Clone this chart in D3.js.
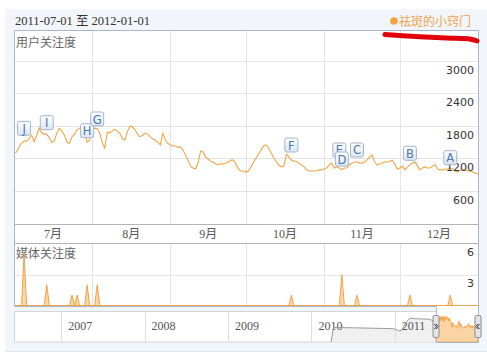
<!DOCTYPE html>
<html><head><meta charset="utf-8">
<script src="https://cdn.jsdelivr.net/npm/d3@7/dist/d3.min.js"></script>
<style>html,body{margin:0;padding:0;background:#fff;}svg{display:block;}</style>
</head><body>
<script>
// ---------- DATA ----------
const rangeStart = "2011-07-01";
const rangeEnd = "2012-01-01";
const keyword = "祛斑的小窍门";
// daily 用户关注度 from 2011-07-01 to 2012-01-01
const userValues = [
1300,1320,1410,1485,1520,1520,1560,1630,1510,1630,
1760,1670,1650,1650,1580,1500,1520,1670,1760,1700,
1630,1500,1480,1600,1650,1730,1760,1780,1670,1500,
1540,1730,1760,1750,1670,1490,1390,1690,1670,1710,
1740,1700,1670,1560,1540,1700,1800,1780,1730,1650,
1600,1630,1670,1650,1600,1560,1540,1500,1450,1665,
1540,1480,1450,1430,1430,1410,1410,1360,1260,1170,
1060,1025,1005,1120,1340,1320,1230,1190,1150,1135,
1100,1080,1100,1100,1115,1135,1170,1170,1100,1005,
970,970,950,970,1045,1135,1210,1280,1360,1430,
1450,1390,1300,1210,1140,1080,1045,1060,1280,1230,
1170,1150,1150,1115,1080,1045,990,970,970,970,
970,990,990,1005,1025,1080,1115,1025,1045,1025,
990,1025,1025,1080,1115,1135,1135,1115,1115,1135,
1170,1230,1265,1135,1080,1100,1115,1135,1135,1150,
1170,1100,1005,1025,1060,990,1045,1080,1115,1135,
1060,990,1025,1045,1025,1025,1060,1080,1005,990,
990,1005,1005,1025,1005,970,950,990,990,990,
970,970,950,930,915];
// 媒体关注度 (non-zero days)
const mediaDates = ["2011-07-05","2011-07-14","2011-07-24","2011-07-26","2011-07-30","2011-08-03","2011-10-19","2011-11-08","2011-11-14","2011-12-05","2011-12-21"];
const mediaValues = [5,2,1,1,2,2,1,3,1,1,1];
// news flags
const flagLetters = ["A","B","C","D","E","F","G","H","I","J"];
const flagDates = ["2011-12-21","2011-12-05","2011-11-14","2011-11-08","2011-11-07","2011-10-19","2011-08-03","2011-07-30","2011-07-14","2011-07-05"];
const flagLevels = [1215,1296,1357,1190,1357,1449,1929,1713,1861,1757];
// axes
const yTicks = [600,1200,1800,2400,3000];
const mediaTicks = [3,6];
const monthLabels = ["7月","8月","9月","10月","11月","12月"];
const yearLabels = ["2007","2008","2009","2010","2011"];
// navigator overview (before selected range)
const navDates = ["2010-03-28","2010-04-08","2010-05-01","2010-06-01","2010-07-01","2010-08-01","2010-09-01","2010-10-01","2010-11-01","2010-12-01","2011-01-01","2011-01-20","2011-02-01","2011-02-20","2011-03-10","2011-04-01","2011-05-01","2011-06-01","2011-07-01"];
const navValues = [0,1000,1010,990,985,975,965,955,945,935,905,770,820,1400,1650,1620,1600,1580,1400];
const navStart = "2006-06-08";

// ---------- DRAW ----------
const W = 487, H = 358;
const parse = d3.timeParse("%Y-%m-%d");
const t0 = parse(rangeStart), t1 = parse(rangeEnd);
const userData = userValues.map((v,i)=>({d:d3.timeDay.offset(t0,i), v}));

const L = 14, R = 478, T = 30, B = 224;
const x = d3.scaleTime().domain([t0,t1]).range([L,R]);
const y = d3.scaleLinear().domain([0,3572]).range([223.5,T]);
const ym = d3.scaleLinear().domain([0,6]).range([305.5,243.5]);
const xn = d3.scaleTime().domain([parse(navStart), t1]).range([L,R]);
const yn = d3.scaleLinear().domain([0,2150]).range([342,311]);

const svg = d3.select("body").append("svg").attr("width",W).attr("height",H);
const cjk = "'Noto Sans CJK SC', sans-serif";
const serif = "'Liberation Serif','Noto Sans CJK SC', serif";

svg.append("rect").attr("x",5).attr("y",9).attr("width",482).attr("height",343).attr("fill","#f2f5f9");
svg.append("line").attr("x1",5).attr("x2",487).attr("y1",351.5).attr("y2",351.5).attr("stroke","#dde3ea");

// header
svg.append("text").attr("x",15).attr("y",25).attr("font-family",serif).attr("font-size",12.5)
  .attr("fill","#333").text(rangeStart+" 至 "+rangeEnd);
svg.append("circle").attr("cx",394).attr("cy",21).attr("r",3.8).attr("fill","#f6a245");
svg.append("text").attr("x",399).attr("y",25.5).attr("font-family",cjk).attr("font-size",12)
  .attr("fill","#f0a44c").text(keyword);

// main white panel
svg.append("rect").attr("x",L).attr("y",T).attr("width",R-L).attr("height",306-T).attr("fill","#fff");

const g = svg.append("g");
// horizontal gridlines
g.selectAll(".hg").data(yTicks).join("line")
  .attr("x1",L).attr("x2",R).attr("y1",d=>Math.round(y(d))+0.5).attr("y2",d=>Math.round(y(d))+0.5)
  .attr("stroke","#e4e4e4");
// month boundaries
const monthStarts = d3.timeMonth.range(t0, d3.timeDay.offset(t1,1));
const innerMonths = monthStarts.slice(1, monthStarts.length-1);
g.selectAll(".vg").data(innerMonths).join("line")
  .attr("x1",d=>Math.round(x(d))+0.5).attr("x2",d=>Math.round(x(d))+0.5).attr("y1",T).attr("y2",B)
  .attr("stroke","#e4e4e4");
g.selectAll(".vg2").data(innerMonths).join("line")
  .attr("x1",d=>Math.round(x(d))+0.5).attr("x2",d=>Math.round(x(d))+0.5).attr("y1",243).attr("y2",306)
  .attr("stroke","#e4e4e4");
// media gridline
g.selectAll(".mg").data(mediaTicks.slice(0,1)).join("line")
  .attr("x1",L).attr("x2",R).attr("y1",d=>Math.round(ym(d))+0.5).attr("y2",d=>Math.round(ym(d))+0.5)
  .attr("stroke","#e4e4e4");

// axis band
g.append("line").attr("x1",L).attr("x2",R).attr("y1",224.5).attr("y2",224.5).attr("stroke","#b4b4b4");
g.append("line").attr("x1",L).attr("x2",R).attr("y1",243.5).attr("y2",243.5).attr("stroke","#b4b4b4");
g.selectAll(".ml").data(monthStarts.slice(0,6)).join("text")
  .attr("x",(d,i)=>(x(d)+x(monthStarts[i+1]))/2).attr("y",238)
  .attr("text-anchor","middle").attr("font-family",serif).attr("font-size",12).attr("fill","#555")
  .text((d,i)=>monthLabels[i]);

// main line
g.append("path").datum(userData).attr("fill","none").attr("stroke","#f4a548").attr("stroke-width",1.1)
  .attr("d", d3.line().x(d=>x(d.d)).y(d=>y(d.v)));

// labels
g.append("text").attr("x",16).attr("y",47).attr("font-family",cjk).attr("font-size",12).attr("fill","#666").text("用户关注度");
g.append("text").attr("x",16).attr("y",258).attr("font-family",cjk).attr("font-size",12).attr("fill","#666").text("媒体关注度");
g.selectAll(".yl").data(yTicks).join("text")
  .attr("x",474).attr("y",d=>y(d)+13).attr("text-anchor","end")
  .attr("font-family","'DejaVu Sans', sans-serif").attr("font-size",11).attr("fill","#333").text(d=>d);
g.selectAll(".myl").data(mediaTicks).join("text")
  .attr("x",474).attr("y",d=>ym(d)+12.5).attr("text-anchor","end")
  .attr("font-family","'DejaVu Sans', sans-serif").attr("font-size",11).attr("fill","#333").text(d=>d);

// media area
const mediaMap = new Map(mediaDates.map((s,i)=>[s, mediaValues[i]]));
const fmt = d3.timeFormat("%Y-%m-%d");
const mediaData = userData.map(p=>({d:p.d, v: mediaMap.get(fmt(p.d)) || 0}));
g.append("path").datum(mediaData).attr("fill","#fcd7a6").attr("stroke","#f3a247").attr("stroke-width",1)
  .attr("d", d3.area().x(d=>x(d.d)).y0(ym(0)).y1(d=>ym(d.v)));

// flags (draw in reverse so earlier letters sit on top)
const defs = svg.append("defs");
const grad = defs.append("linearGradient").attr("id","fg").attr("x1",0).attr("x2",0).attr("y1",0).attr("y2",1);
grad.append("stop").attr("offset","0%").attr("stop-color","#ffffff");
grad.append("stop").attr("offset","100%").attr("stop-color","#dde5ef");
const flags = flagLetters.map((l,i)=>({l, d:parse(flagDates[i]), v:flagLevels[i]})).reverse();
const fgs = g.selectAll(".flag").data(flags).join("g")
  .attr("transform",d=>`translate(${x(d.d)},${y(d.v)})`);
fgs.append("rect").attr("x",-6.5).attr("y",-7).attr("width",13).attr("height",14).attr("rx",2)
  .attr("fill","url(#fg)").attr("stroke","#a3b4cb");
fgs.append("text").attr("y",4.5).attr("text-anchor","middle").attr("font-family","'DejaVu Sans', sans-serif")
  .attr("font-size",11.5).attr("fill","#4a78b4").text(d=>d.l);

// navigator
const nav = svg.append("g");
const selX = xn(t0);
nav.append("rect").attr("x",L+0.5).attr("y",311.5).attr("width",R-L-1).attr("height",30.5)
  .attr("fill","#fff").attr("stroke","#cfd5dd");
const navData = navDates.map((s,i)=>({d:parse(s), v:navValues[i]}));
nav.append("path").datum(navData).attr("fill","#f0f0f0").attr("stroke","none")
  .attr("d", d3.area().x(d=>xn(d.d)).y0(342).y1(d=>yn(d.v)));
const years = yearLabels.map(s=>parse(s+"-01-01"));
nav.selectAll(".yd").data(years).join("line")
  .attr("x1",d=>Math.round(xn(d))+0.5).attr("x2",d=>Math.round(xn(d))+0.5).attr("y1",312).attr("y2",342)
  .attr("stroke","#dedede");
nav.selectAll(".yt").data(years).join("text")
  .attr("x",d=>xn(d)+7).attr("y",329.5).attr("font-family",serif).attr("font-size",12).attr("fill","#555")
  .text((d,i)=>yearLabels[i]);
nav.append("path").datum(navData).attr("fill","none").attr("stroke","#999").attr("stroke-width",1)
  .attr("d", d3.line().x(d=>xn(d.d)).y(d=>yn(d.v)));
// selected window
nav.append("rect").attr("x",selX).attr("y",306).attr("width",R-selX).attr("height",36).attr("fill","#fff");
nav.append("path").datum(userData).attr("fill","#fbd4a3").attr("stroke","#f3a247").attr("stroke-width",1)
  .attr("d", d3.area().x(d=>xn(d.d)).y0(342).y1(d=>yn(d.v)));

// frame
svg.append("path").attr("fill","none").attr("stroke","#a6b8d0").attr("stroke-width",1)
  .attr("d",`M${L+0.5},${T+0.5}H${R+0.5}V342.5H${Math.round(selX)+0.5}V306.5H${L+0.5}Z`);

// handles
[selX, R].forEach((hx,i)=>{
  const hg = svg.append("g").attr("transform",`translate(${hx},0)`);
  hg.append("rect").attr("x",-3).attr("y",315.5).attr("width",6).attr("height",22).attr("rx",1.5)
    .attr("fill","#e4e4e4").attr("stroke","#8c8c8c");
  const dir = i===0 ? 1 : -1;
  hg.append("path").attr("fill","none").attr("stroke","#333").attr("stroke-width",0.9)
    .attr("d",`M${-1.5*dir},${324}L${0.5*dir},${326.5}L${-1.5*dir},${329}M${0*dir},${324}L${2*dir},${326.5}L${0*dir},${329}`);
});

// red marker scribble (annotation in the picture)
svg.append("path").attr("fill","none").attr("stroke","#e0000b").attr("stroke-width",5).attr("stroke-linecap","round")
  .attr("d","M385,34.5C405,36 430,37.5 452,38.2S470,38.6 477,41");
</script>
</body></html>
